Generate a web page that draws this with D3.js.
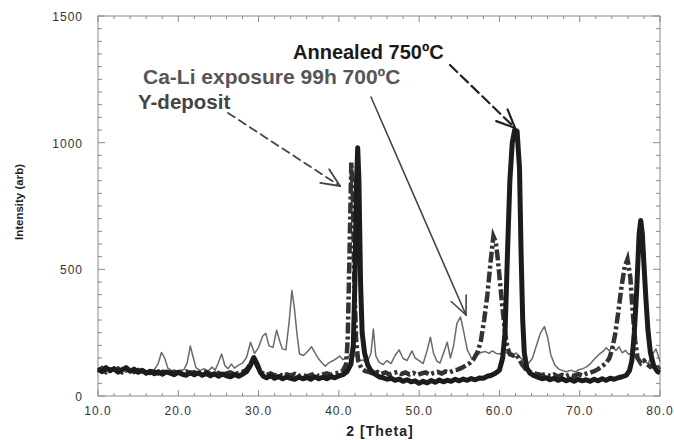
<!DOCTYPE html>
<html>
<head>
<meta charset="utf-8">
<script src="https://cdn.jsdelivr.net/npm/d3@7"></script>
<style>
  body { margin: 0; background: #fff; }
  svg { display: block; font-family: "Liberation Sans", Arial, Helvetica, sans-serif; }
</style>
</head>
<body>
<svg class="svg" width="674" height="440"></svg>
<script>
// 2theta (deg) / intensity (arb)
const annealed = [
  [10,105],[10.5,96],[11,112],[11.5,100],[12,108],[12.5,94],[13,104],[13.5,112],[14,98],[14.5,106],
  [15,94],[15.5,102],[16,90],[16.5,98],[17,88],[17.5,96],[18,86],[18.5,95],[19,90],[19.5,84],
  [20,94],[20.5,86],[21,82],[21.5,92],[22,84],[22.5,91],[23,82],[23.5,89],[24,80],[24.5,88],
  [25,78],[25.5,87],[26,80],[26.5,76],[27,85],[27.5,78],[28,86],[28.5,96],[29,122],[29.4,152],
  [29.8,128],[30.2,95],[30.6,78],[31,72],[31.5,80],[32,70],[32.5,77],[33,68],[33.5,75],[34,70],
  [34.5,66],[35,75],[35.5,68],[36,73],[36.5,66],[37,76],[37.5,68],[38,74],[38.5,68],[39,77],
  [39.5,72],[40,79],[40.5,84],[41,96],[41.5,125],[41.8,200],[42.0,450],[42.2,850],[42.35,980],
  [42.5,850],[42.7,450],[42.9,250],[43.2,170],[43.6,122],[44,100],[44.5,86],[45,76],[45.5,72],
  [46,66],[46.5,70],[47,62],[47.5,67],[48,58],[48.5,64],[49,56],[49.5,60],[50,50],[50.5,58],
  [51,52],[51.5,61],[52,54],[52.5,63],[53,56],[53.5,62],[54,58],[54.5,66],[55,60],[55.5,67],
  [56,62],[56.5,69],[57,64],[57.5,71],[58,70],[58.5,78],[59,82],[59.5,90],[60,102],[60.4,150],
  [60.7,250],[61.0,560],[61.3,850],[61.6,1000],[61.9,1050],[62.2,1045],[62.5,900],[62.7,560],
  [62.9,300],[63.1,170],[63.4,112],[63.8,90],[64.3,80],[64.8,74],[65.3,68],[65.8,72],[66.3,64],
  [66.8,70],[67.3,62],[67.8,68],[68.3,60],[68.8,66],[69.3,58],[69.8,66],[70.3,60],[70.8,64],
  [71.3,58],[71.8,66],[72.3,60],[72.8,68],[73.3,62],[73.8,70],[74.3,66],[74.8,72],[75.3,76],
  [75.8,82],[76.2,100],[76.5,140],[76.8,250],[77.1,420],[77.4,640],[77.6,693],[77.8,640],
  [78.0,520],[78.25,380],[78.5,260],[78.8,172],[79.2,120],[79.7,96],[80,92]
];

const caLi = [
  [10,112],[10.5,100],[11,108],[11.5,96],[12,106],[12.5,94],[13,104],[13.5,93],[14,102],[14.5,92],
  [15,99],[15.5,90],[16,97],[16.5,101],[17,104],[17.5,128],[17.9,172],[18.3,150],[18.7,110],
  [19.2,100],[19.7,94],[20.2,102],[20.7,104],[21.1,130],[21.5,197],[21.8,160],[22.2,112],[22.7,100],
  [23.2,108],[23.7,98],[24.2,114],[24.6,102],[25,132],[25.4,166],[25.8,120],[26.2,108],[26.6,126],
  [27,110],[27.5,122],[28,130],[28.5,152],[29,212],[29.5,168],[30,192],[30.5,236],[30.9,248],
  [31.3,198],[31.8,192],[32.25,260],[32.6,220],[32.95,186],[33.4,182],[33.8,290],[34.15,416],
  [34.45,350],[34.8,240],[35.1,166],[35.6,160],[36.1,176],[36.6,194],[37,172],[37.4,150],[37.8,134],
  [38.3,118],[38.8,132],[39.3,140],[39.8,150],[40.1,158],[40.5,144],[41,150],[41.5,168],[42,162],
  [42.5,140],[43,142],[43.5,132],[44,168],[44.3,264],[44.6,158],[45,134],[45.5,124],[46,140],
  [46.5,128],[47,160],[47.5,182],[48,148],[48.5,140],[49.1,178],[49.5,150],[50,140],[50.5,128],
  [51,180],[51.4,232],[51.8,168],[52.2,138],[52.6,130],[53,166],[53.5,212],[53.9,150],[54.3,200],
  [54.7,286],[55.15,312],[55.5,262],[56,182],[56.6,144],[57.2,160],[57.7,172],[58.2,176],[58.7,168],
  [59.1,178],[59.6,168],[60.1,166],[60.6,176],[61.1,166],[61.6,158],[62.1,170],[62.6,150],[63.1,140],
  [63.6,128],[64.1,148],[64.6,198],[65.1,248],[65.6,274],[66,232],[66.4,162],[66.9,122],[67.4,106],
  [67.9,100],[68.4,96],[68.9,102],[69.4,95],[69.9,104],[70.4,108],[70.9,116],[71.4,130],[71.9,148],
  [72.4,164],[72.9,176],[73.3,190],[73.7,178],[74.1,198],[74.5,180],[74.9,194],[75.3,170],[75.7,180],
  [76.1,164],[76.5,172],[77,150],[77.5,132],[78,140],[78.5,128],[79,160],[79.5,186],[80,136]
];

const yDeposit = [
  [10,100],[10.5,110],[11,94],[11.5,105],[12,97],[12.5,108],[13,94],[13.5,102],[14,106],[14.5,95],
  [15,102],[15.5,92],[16,99],[16.5,91],[17,97],[17.5,89],[18,95],[18.5,99],[19,91],[19.5,96],
  [20,87],[20.5,93],[21,97],[21.5,89],[22,94],[22.5,86],[23,91],[23.5,95],[24,87],[24.5,84],
  [25,91],[25.5,83],[26,89],[26.5,93],[27,85],[27.5,91],[28,95],[28.5,104],[29,126],[29.4,146],
  [29.8,120],[30.2,98],[30.6,88],[31,83],[31.5,89],[32,81],[32.5,87],[33,79],[33.5,85],[34,81],
  [34.5,87],[35,79],[35.5,85],[36,77],[36.5,83],[37,87],[37.5,79],[38,85],[38.5,89],[39,83],
  [39.5,90],[40,92],[40.5,100],[40.9,125],[41.1,220],[41.3,520],[41.55,922],[41.75,780],[41.95,420],
  [42.15,220],[42.4,140],[42.8,110],[43.3,98],[43.8,94],[44.3,88],[44.8,95],[45.3,87],[45.8,93],
  [46.3,85],[46.8,91],[47.3,95],[47.8,87],[48.3,93],[48.8,85],[49.3,91],[49.8,83],[50.3,89],
  [50.8,93],[51.3,85],[51.8,91],[52.3,95],[52.8,89],[53.3,97],[53.8,93],[54.3,101],[54.8,104],
  [55.3,111],[55.8,120],[56.3,130],[56.8,146],[57.3,175],[57.7,220],[58.1,300],[58.5,400],[58.9,530],
  [59.25,630],[59.55,608],[59.8,540],[60.1,440],[60.4,340],[60.7,250],[61.0,190],[61.3,165],[61.7,160],
  [62.0,165],[62.4,150],[62.8,125],[63.3,105],[63.8,95],[64.3,90],[64.8,86],[65.3,82],[65.8,87],
  [66.3,79],[66.8,85],[67.3,77],[67.8,83],[68.3,78],[68.8,85],[69.3,79],[69.8,87],[70.3,81],
  [70.8,88],[71.3,92],[71.8,98],[72.3,106],[72.8,118],[73.3,130],[73.7,150],[74.0,180],[74.4,240],
  [74.8,330],[75.2,430],[75.6,510],[75.95,540],[76.3,470],[76.6,330],[76.9,220],[77.2,150],[77.6,130],
  [78.0,140],[78.4,125],[78.8,115],[79.2,122],[79.6,108],[80,116]
];

const xTicks = [10, 20, 30, 40, 50, 60, 70, 80];
const yTicks = [0, 500, 1000, 1500];

const svg = d3.select('.svg');
const plotLeft = 98, plotRight = 660, plotTop = 16, plotBottom = 396;

const x = d3.scaleLinear().domain([10, 80]).range([plotLeft, plotRight]);
const y = d3.scaleLinear().domain([0, 1500]).range([plotBottom, plotTop]);

// frame
svg.append("rect")
    .attr("x", plotLeft).attr("y", plotTop)
    .attr("width", plotRight - plotLeft).attr("height", plotBottom - plotTop)
    .attr("fill", "none").attr("stroke", "#8a8a8a").attr("stroke-width", 1);

// ticks, all pointing inward
const minorX = d3.range(10, 80.1, 2);
const minorY = d3.range(0, 1500.1, 50);
const tickColor = "#8a8a8a";

svg.append("g").selectAll("line").data(minorX).enter().append("line")
    .attr("x1", d => x(d)).attr("x2", d => x(d))
    .attr("y1", plotBottom).attr("y2", d => plotBottom - (d % 10 === 0 ? 6 : 3))
    .attr("stroke", tickColor);
svg.append("g").selectAll("line").data(minorX).enter().append("line")
    .attr("x1", d => x(d)).attr("x2", d => x(d))
    .attr("y1", plotTop).attr("y2", d => plotTop + (d % 10 === 0 ? 6 : 3))
    .attr("stroke", tickColor);
svg.append("g").selectAll("line").data(minorY).enter().append("line")
    .attr("y1", d => y(d)).attr("y2", d => y(d))
    .attr("x1", plotLeft).attr("x2", d => plotLeft + (d % 500 === 0 ? 7 : 4))
    .attr("stroke", tickColor);
svg.append("g").selectAll("line").data(minorY).enter().append("line")
    .attr("y1", d => y(d)).attr("y2", d => y(d))
    .attr("x1", plotRight).attr("x2", d => plotRight - (d % 500 === 0 ? 7 : 4))
    .attr("stroke", tickColor);

// tick labels
svg.append("g").selectAll("text").data(xTicks).enter().append("text")
    .attr("x", d => x(d)).attr("y", 415)
    .attr("text-anchor", "middle")
    .attr("font-size", 12).attr("letter-spacing", 1)
    .attr("fill", "#333")
    .text(d => d.toFixed(1));

svg.append("g").selectAll("text").data(yTicks).enter().append("text")
    .attr("x", 83).attr("y", d => y(d) + 5)
    .attr("text-anchor", "end")
    .attr("font-size", 12).attr("letter-spacing", 1)
    .attr("fill", "#333")
    .text(d => d);

// axis titles
svg.append("text")
    .attr("x", 380).attr("y", 436)
    .attr("text-anchor", "middle")
    .attr("font-size", 14).attr("font-weight", "bold").attr("letter-spacing", 1)
    .attr("fill", "#222")
    .text("2 [Theta]");

svg.append("text")
    .attr("transform", "translate(23,202) rotate(-90)")
    .attr("text-anchor", "middle")
    .attr("font-size", 11.5).attr("font-weight", "bold")
    .attr("fill", "#222")
    .text("Intensity (arb)");

// curves
const line = d3.line()
    .x(d => x(d[0]))
    .y(d => y(d[1]));

svg.append("path")
    .attr("d", line(caLi))
    .attr("fill", "none")
    .attr("stroke", "#6a6a6a")
    .attr("stroke-width", 1.5)
    .attr("stroke-linejoin", "round");

svg.append("path")
    .attr("d", line(yDeposit))
    .attr("fill", "none")
    .attr("stroke", "#333")
    .attr("stroke-width", 4.5)
    .attr("stroke-dasharray", "11,3,3,3");

svg.append("path")
    .attr("d", line(annealed))
    .attr("fill", "none")
    .attr("stroke", "#1c1c1c")
    .attr("stroke-width", 5)
    .attr("stroke-linejoin", "round");

// annotations
svg.append("text")
    .attr("x", 293).attr("y", 59)
    .attr("font-size", 20).attr("font-weight", "bold")
    .attr("fill", "#1a1a1a")
    .text("Annealed 750ºC");

svg.append("text")
    .attr("x", 143).attr("y", 84)
    .attr("font-size", 21).attr("font-weight", "bold")
    .attr("fill", "#555")
    .text("Ca-Li exposure 99h 700ºC");

svg.append("text")
    .attr("x", 138).attr("y", 109)
    .attr("font-size", 20.5).attr("font-weight", "bold")
    .attr("fill", "#444")
    .text("Y-deposit");

// arrows: shaft + open head
function arrow(x1, y1, x2, y2, color, width, dash) {
    const g = svg.append("g").attr("stroke", color).attr("stroke-width", width)
        .attr("fill", "none").attr("stroke-linecap", "round");
    g.append("line").attr("x1", x1).attr("y1", y1).attr("x2", x2).attr("y2", y2)
        .attr("stroke-dasharray", dash);
    const a = Math.atan2(y2 - y1, x2 - x1);
    const len = 20, spread = 0.42;
    [a + Math.PI - spread, a + Math.PI + spread].forEach(t => {
        g.append("line").attr("x1", x2).attr("y1", y2)
            .attr("x2", x2 + len * Math.cos(t)).attr("y2", y2 + len * Math.sin(t));
    });
}

arrow(228, 113, 340, 186, "#444", 1.8, "8,5");
arrow(371, 97, 466, 315, "#444", 1.6, null);
arrow(450, 65, 515, 128, "#222", 2.2, "10,5");
</script>
</body>
</html>
